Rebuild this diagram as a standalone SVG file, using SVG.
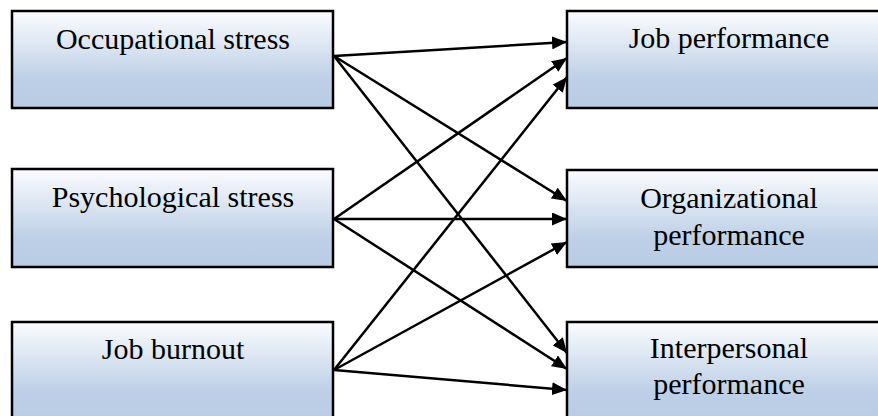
<svg xmlns="http://www.w3.org/2000/svg" width="878" height="416" viewBox="0 0 878 416">
<defs>
<linearGradient id="g" x1="0" y1="0" x2="0" y2="1">
<stop offset="0" stop-color="#fbfcfe"/>
<stop offset="0.7" stop-color="#bed0e7"/>
<stop offset="1" stop-color="#b9cce4"/>
</linearGradient>
<marker id="ah" markerUnits="userSpaceOnUse" markerWidth="15" markerHeight="13" refX="15" refY="6.5" orient="auto">
<path d="M0,0 L15,6.5 L0,13 z" fill="#000"/>
</marker>
<style>
.box{fill:url(#g);stroke:#000;stroke-width:2.5}
.t{font-family:"Liberation Serif","Times New Roman",serif;font-size:30px;fill:#000;text-anchor:middle}
.c{stroke:#000;stroke-width:2.5;fill:none;marker-end:url(#ah)}
</style>
</defs>
<g id="n-occupational"><rect class="box" x="12" y="11" width="321" height="97"/><text class="t" x="173" y="49">Occupational stress</text></g>
<g id="n-psychological"><rect class="box" x="12" y="169" width="321" height="98"/><text class="t" x="173" y="207">Psychological stress</text></g>
<g id="n-burnout"><rect class="box" x="12" y="322" width="321" height="98"/><text class="t" x="173" y="359">Job burnout</text></g>
<g id="n-job"><rect class="box" x="567" y="11" width="322" height="97"/><text class="t" x="729" y="48">Job performance</text></g>
<g id="n-org"><rect class="box" x="567" y="170" width="322" height="97"/><text class="t" x="729" y="208">Organizational</text><text class="t" x="729" y="245">performance</text></g>
<g id="n-inter"><rect class="box" x="567" y="322" width="322" height="98"/><text class="t" x="729" y="358">Interpersonal</text><text class="t" x="729" y="394">performance</text></g>
<g id="connectors">
<line class="c" x1="334" y1="56" x2="567" y2="42"/>
<line class="c" x1="334" y1="56" x2="567" y2="201"/>
<line class="c" x1="334" y1="56" x2="567" y2="353"/>
<line class="c" x1="334" y1="219" x2="567" y2="58"/>
<line class="c" x1="334" y1="219" x2="567" y2="219"/>
<line class="c" x1="334" y1="219" x2="567" y2="369"/>
<line class="c" x1="334" y1="370" x2="567" y2="77"/>
<line class="c" x1="334" y1="370" x2="567" y2="242"/>
<line class="c" x1="334" y1="370" x2="567" y2="390"/>
</g>
</svg>
